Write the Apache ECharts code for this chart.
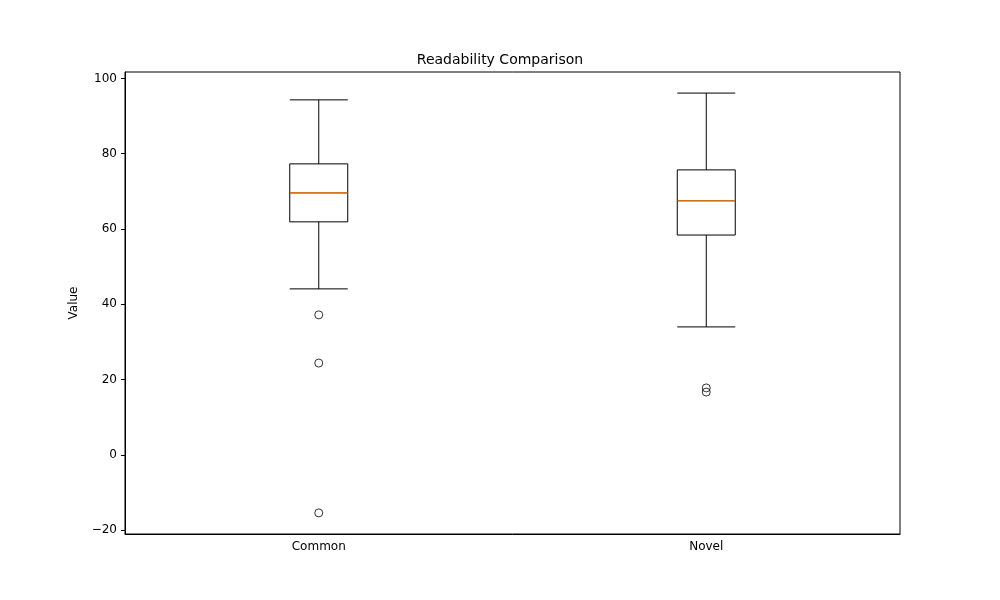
<!DOCTYPE html>
<html>
<head>
<meta charset="utf-8">
<script src="https://cdn.jsdelivr.net/npm/echarts@6/dist/echarts.min.js"></script>
<style>html,body{margin:0;padding:0;background:#fff}#chart{width:1000px;height:600px}</style>
</head>
<body>
<div id="chart"></div>
<script>
const categories = ['Common', 'Novel'];
// [lower whisker, Q1, median, Q3, upper whisker]
const boxValues = [
  [44.1, 61.9, 69.6, 77.3, 94.3],
  [34.0, 58.4, 67.5, 75.7, 96.1]
];
const outliers = [
  [0, 37.2], [0, 24.4], [0, -15.4],
  [1, 17.8], [1, 16.7]
];
const yTicks = [-20, 0, 20, 40, 60, 80, 100];

const chart = echarts.init(document.getElementById('chart'));
const font = 'DejaVu Sans';
chart.setOption({
  animation: false,
  textStyle: { fontFamily: font },
  title: {
    text: 'Readability Comparison', left: 'center', top: 48,
    textStyle: { fontFamily: font, fontSize: 14, fontWeight: 'normal', color: '#000' }
  },
  grid: { left: 125, right: 100, top: 72, bottom: 66, show: true, borderColor: '#000', borderWidth: 1 },
  xAxis: {
    type: 'category', data: categories, boundaryGap: true,
    axisLine: { onZero: false, lineStyle: { color: '#000' } },
    axisTick: { alignWithLabel: true, length: 4, lineStyle: { color: '#000' } },
    axisLabel: { color: '#000', fontSize: 12, margin: 7 },
    splitLine: { show: false }
  },
  yAxis: {
    type: 'value', min: -21, max: 101.7,
    name: 'Value', nameLocation: 'middle', nameGap: 45,
    nameTextStyle: { color: '#000', fontSize: 12 },
    axisLine: { show: true, lineStyle: { color: '#000' } },
    axisTick: { show: true, length: 4, customValues: yTicks, lineStyle: { color: '#000' } },
    axisLabel: {
      color: '#000', fontSize: 12, customValues: yTicks,
      formatter: v => String(v).replace('-', '\u2212')
    },
    splitLine: { show: false }
  },
  series: [
    {
      type: 'boxplot', data: boxValues, boxWidth: [58, 58],
      itemStyle: { color: '#fff', borderColor: '#000', borderWidth: 1 }
    },
    {
      type: 'custom', z: 5,
      data: boxValues.map((b, i) => [i, b[2]]),
      renderItem: function (params, api) {
        const p = api.coord([api.value(0), api.value(1)]);
        return {
          type: 'line',
          shape: { x1: p[0] - 29, y1: p[1], x2: p[0] + 29, y2: p[1] },
          style: { stroke: '#ff7f0e', lineWidth: 1.2 }
        };
      }
    },
    {
      type: 'scatter', data: outliers, symbol: 'circle', symbolSize: 8,
      itemStyle: { color: 'rgba(0,0,0,0)', borderColor: '#000', borderWidth: 1 }
    }
  ]
});
</script>
</body>
</html>
